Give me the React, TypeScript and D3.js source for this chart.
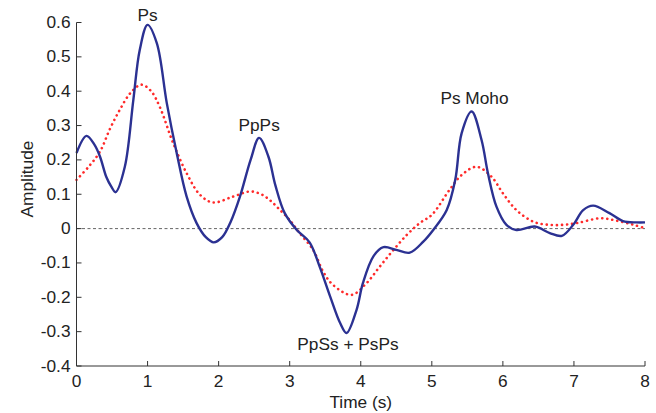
import React from 'react'
import * as d3 from 'd3'

// receiver function traces
const blueTime = [0, 0.14, 0.25, 0.33, 0.42, 0.49, 0.55, 0.68, 0.8, 0.89, 1.0, 1.13, 1.27, 1.41, 1.55, 1.69, 1.82, 1.93, 2.05, 2.17, 2.3, 2.45, 2.57, 2.7, 2.8, 2.93, 3.1, 3.28, 3.42, 3.57, 3.71, 3.8, 3.94, 4.03, 4.18, 4.32, 4.5, 4.69, 4.88, 5.02, 5.21, 5.33, 5.42, 5.56, 5.7, 5.79, 5.91, 6.05, 6.19, 6.45, 6.66, 6.83, 6.99, 7.13, 7.27, 7.5, 7.69, 7.88, 8.0]
const blueAmp = [0.22, 0.27, 0.245, 0.21, 0.15, 0.122, 0.106, 0.18, 0.375, 0.52, 0.593, 0.54, 0.366, 0.22, 0.093, 0.016, -0.025, -0.04, -0.025, 0.02, 0.093, 0.2, 0.264, 0.21, 0.125, 0.045, -0.004, -0.04, -0.11, -0.198, -0.275, -0.304, -0.237, -0.159, -0.08, -0.054, -0.062, -0.07, -0.038, -0.004, 0.054, 0.142, 0.278, 0.341, 0.258, 0.161, 0.064, 0.011, -0.004, 0.006, -0.013, -0.021, 0.011, 0.054, 0.067, 0.045, 0.022, 0.018, 0.018]

const redTime = [0, 0.17, 0.33, 0.47, 0.61, 0.76, 0.915, 1.05, 1.17, 1.36, 1.55, 1.74, 1.92, 2.2, 2.44, 2.6, 2.72, 2.86, 3.0, 3.14, 3.33, 3.47, 3.61, 3.87, 4.08, 4.27, 4.46, 4.65, 4.83, 5.0, 5.25, 5.42, 5.63, 5.84, 6.0, 6.19, 6.43, 6.64, 6.85, 7.04, 7.37, 7.6, 7.84, 8.0]
const redAmp = [0.142, 0.18, 0.224, 0.29, 0.346, 0.395, 0.419, 0.4, 0.355, 0.249, 0.161, 0.098, 0.076, 0.093, 0.108, 0.1, 0.083, 0.055, 0.025, -0.013, -0.062, -0.125, -0.164, -0.193, -0.159, -0.11, -0.062, -0.018, 0.016, 0.04, 0.113, 0.156, 0.18, 0.151, 0.103, 0.054, 0.02, 0.011, 0.011, 0.016, 0.03, 0.023, 0.011, 0.001]

const phases = [
  { text: 'Ps', t: 1.0, a: 0.593, dy: -4 },
  { text: 'PpPs', t: 2.57, a: 0.264, dy: -7 },
  { text: 'PpSs + PsPs', t: 3.82, a: -0.304, dy: 17 },
  { text: 'Ps Moho', t: 5.6, a: 0.341, dy: -7 },
]

const xTicks = [0, 1, 2, 3, 4, 5, 6, 7, 8]
const yTicks = [-0.4, -0.3, -0.2, -0.1, 0, 0.1, 0.2, 0.3, 0.4, 0.5, 0.6]

const W = 656
const H = 413
const margin = { top: 22.5, right: 11, bottom: 47, left: 76.5 }
const font = '"Liberation Sans", Arial, sans-serif'
const stretch = 1.08

function Label({ x, y, anchor = 'middle', rotate = 0, children }: { x: number, y: number, anchor?: string, rotate?: number, children: React.ReactNode }) {
  return (
    <text transform={`translate(${x},${y}) rotate(${rotate}) scale(${stretch},1)`} textAnchor={anchor}>{children}</text>
  )
}

export default function App() {
  const x = d3.scaleLinear().domain([0, 8]).range([margin.left, W - margin.right])
  const y = d3.scaleLinear().domain([-0.4, 0.6]).range([H - margin.bottom, margin.top])

  const line = d3.line<[number, number]>()
    .x(d => x(d[0]))
    .y(d => y(d[1]))
    .curve(d3.curveCatmullRom.alpha(0.5))

  const blue = line(blueTime.map((t, i) => [t, blueAmp[i]]))
  const red = line(redTime.map((t, i) => [t, redAmp[i]]))

  const x0 = margin.left
  const yb = H - margin.bottom

  return (
    <svg width={W} height={H} style={{ position: 'absolute', left: 0, top: 0, background: '#fff' }}>
      <line x1={x(0)} x2={x(8)} y1={y(0)} y2={y(0)} stroke="#666" strokeWidth={1} strokeDasharray="3,2.5" />
      <path d={red ?? ''} fill="none" stroke="#ff2a2a" strokeWidth={2.6} strokeDasharray="0.1,5" strokeLinecap="round" />
      <path d={blue ?? ''} fill="none" stroke="#2b3192" strokeWidth={2.4} />

      <g stroke="#333" strokeWidth={1}>
        <line x1={x0} x2={x0} y1={y(0.6)} y2={yb} />
        <line x1={x0} x2={x(8)} y1={yb} y2={yb} />
        {yTicks.map(v => <line key={'y' + v} x1={x0} x2={x0 + 5} y1={y(v)} y2={y(v)} />)}
        {xTicks.map(v => <line key={'x' + v} x1={x(v)} x2={x(v)} y1={yb} y2={yb - 5} />)}
      </g>

      <g fontFamily={font} fontSize={16} fill="#222">
        {yTicks.map(v => (
          <Label key={'yl' + v} x={x0 - 6} y={y(v) + 5.5} anchor="end">{String(+v.toFixed(1))}</Label>
        ))}
        {xTicks.map(v => (
          <Label key={'xl' + v} x={x(v)} y={yb + 20.5}>{v}</Label>
        ))}
        <Label x={(x(0) + x(8)) / 2} y={H - 5}>Time (s)</Label>
        <Label x={33} y={179} rotate={-90}>Amplitude</Label>
        {phases.map(p => (
          <Label key={p.text} x={x(p.t)} y={y(p.a) + p.dy}>{p.text}</Label>
        ))}
      </g>
    </svg>
  )
}
